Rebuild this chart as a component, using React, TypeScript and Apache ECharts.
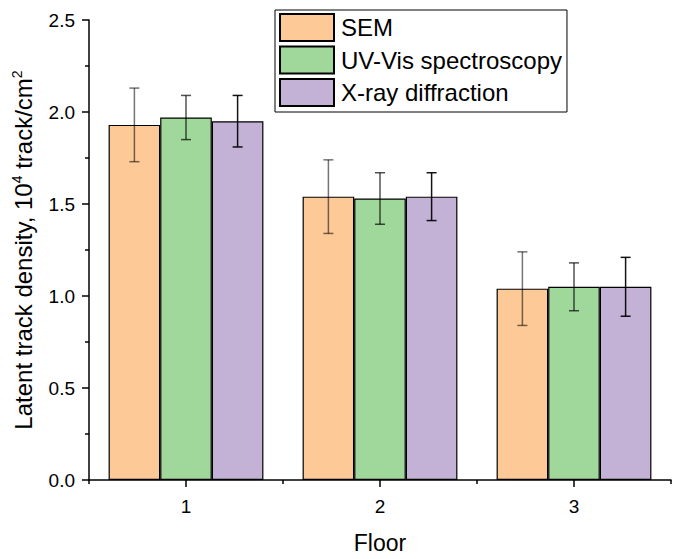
import React, { useEffect, useRef } from "react";
import * as echarts from "echarts";

const categories = ["1", "2", "3"];
const seriesNames = ["SEM", "UV-Vis spectroscopy", "X-ray diffraction"];
const semValues = [1.93, 1.54, 1.04];
const semErrors = [0.2, 0.2, 0.2];
const uvValues = [1.97, 1.53, 1.05];
const uvErrors = [0.12, 0.14, 0.13];
const xrdValues = [1.95, 1.54, 1.05];
const xrdErrors = [0.14, 0.13, 0.16];
const yTicks = [0, 0.5, 1.0, 1.5, 2.0, 2.5];

const barColors = ["#FDC997", "#A0D89B", "#C3B2D6"];
const errColors = ["rgba(0,0,0,0.55)", "rgba(0,0,0,0.68)", "rgba(0,0,0,0.92)"];
const FONT = "Liberation Sans, Arial, sans-serif";
const BAR_FRAC = 0.266;

export default function App() {
  const ref = useRef<HTMLDivElement>(null);
  useEffect(() => {
    document.body.style.margin = "0";
    if (!ref.current) return;
    const chart = echarts.init(ref.current, undefined, { renderer: "svg" });
    const values = [semValues, uvValues, xrdValues];
    const errors = [semErrors, uvErrors, xrdErrors];

    const barSeries = seriesNames.map((name, i) => ({
      name,
      type: "bar",
      xAxisIndex: 0,
      yAxisIndex: 0,
      data: values[i],
      barWidth: BAR_FRAC * 100 + "%",
      barGap: "0%",
      itemStyle: { color: barColors[i], borderColor: "#000", borderWidth: 1.2 },
      z: 2,
    }));

    const errSeries = seriesNames.map((name, i) => ({
      name: name + " error",
      type: "custom",
      xAxisIndex: 0,
      yAxisIndex: 0,
      z: 5,
      data: values[i].map((v, k) => [k, v, errors[i][k]]),
      encode: { x: 0, y: 1 },
      renderItem: (params: any, api: any) => {
        const xi = api.value(0);
        const v = api.value(1);
        const e = api.value(2);
        const c = api.coord([xi, v]);
        const band = api.size([1, 0])[0];
        const cx = c[0] + (i - 1) * band * BAR_FRAC;
        const top = api.coord([xi, v + e])[1];
        const bot = api.coord([xi, v - e])[1];
        const style = { stroke: errColors[i], lineWidth: 1.5 };
        const hw = 5;
        return {
          type: "group",
          children: [
            { type: "line", shape: { x1: cx, y1: top, x2: cx, y2: bot }, style },
            { type: "line", shape: { x1: cx - hw, y1: top, x2: cx + hw, y2: top }, style },
            { type: "line", shape: { x1: cx - hw, y1: bot, x2: cx + hw, y2: bot }, style },
          ],
        };
      },
    }));

    chart.setOption({
      animation: false,
      backgroundColor: "#fff",
      textStyle: { fontFamily: FONT },
      grid: { left: 89, right: 7, top: 20, bottom: 71, containLabel: false },
      legend: {
        data: seriesNames,
        orient: "vertical",
        left: 275,
        top: 10,
        itemWidth: 54,
        itemHeight: 27,
        itemGap: 3.5,
        padding: [3, 5, 5, 4],
        borderColor: "#000",
        borderWidth: 1,
        selectedMode: false,
        icon: "rect",
        textStyle: { fontSize: 24, lineHeight: 27, color: "#000", fontFamily: FONT, padding: [0, 0, 0, 2] },
      },
      xAxis: [
        {
          type: "category",
          data: categories,
          position: "bottom",
          axisLine: { show: true, lineStyle: { color: "#000", width: 1.5 } },
          axisTick: { show: true, length: 4, lineStyle: { color: "#000", width: 1.5 } },
          axisLabel: { show: false },
          splitLine: { show: false },
          name: "Floor",
          nameLocation: "middle",
          nameGap: 51,
          nameTextStyle: { fontSize: 23, color: "#000", fontFamily: FONT },
        },
        {
          type: "category",
          data: categories,
          position: "bottom",
          axisLine: { show: false },
          axisTick: { show: true, alignWithLabel: true, length: 7, lineStyle: { color: "#000", width: 1.5 } },
          axisLabel: { show: true, fontSize: 19, color: "#000", fontFamily: FONT, margin: 17 },
          splitLine: { show: false },
        },
      ],
      yAxis: {
        type: "value",
        min: yTicks[0],
        max: yTicks[yTicks.length - 1],
        interval: 0.5,
        axisLine: { show: true, lineStyle: { color: "#000", width: 1.5 } },
        axisTick: { show: true, length: 7, lineStyle: { color: "#000", width: 1.5 } },
        minorTick: { show: true, splitNumber: 2, length: 4, lineStyle: { color: "#000", width: 1.5 } },
        splitLine: { show: false },
        axisLabel: {
          fontSize: 19,
          color: "#000",
          fontFamily: FONT,
          margin: 14,
          formatter: (v: number) => v.toFixed(1),
        },
        name: "Latent track density, 10{sup|4} track/cm{sup|2}",
        nameLocation: "middle",
        nameGap: 41,
        nameTextStyle: {
          fontSize: 24,
          color: "#000",
          fontFamily: FONT,
          lineHeight: 28,
          rich: {
            sup: { fontSize: 14, fontFamily: FONT, color: "#000", verticalAlign: "top", lineHeight: 14 },
          },
        },
      },
      series: [...barSeries, ...errSeries],
    });
    return () => chart.dispose();
  }, []);
  return <div ref={ref} style={{ width: 678, height: 559 }} />;
}
